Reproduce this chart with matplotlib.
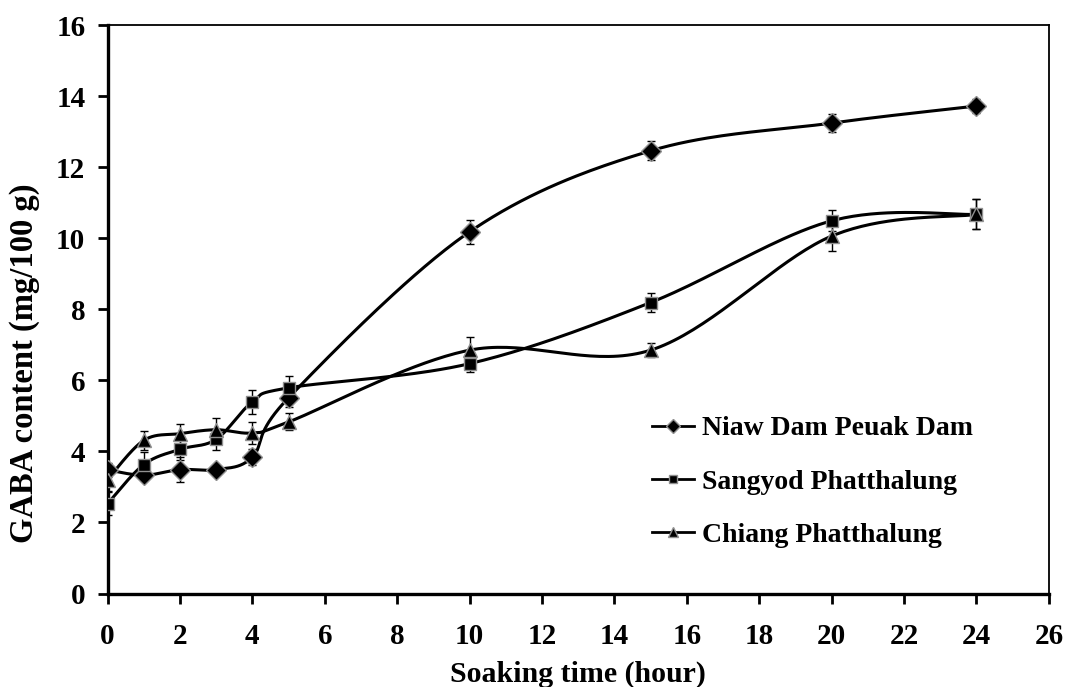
import numpy as np
import matplotlib
matplotlib.use("Agg")
import matplotlib.pyplot as plt

# soaking time (hour)
hours = [0, 1, 2, 3, 4, 5, 10, 15, 20, 24]

# GABA content (mg/100 g)
niaw = [3.48, 3.33, 3.49, 3.49, 3.84, 5.51, 10.18, 12.46, 13.24, 13.72]
niaw_err = [0.2, 0.12, 0.34, 0.12, 0.23, 0.27, 0.33, 0.27, 0.25, 0.2]
sangyod = [2.53, 3.63, 4.06, 4.34, 5.39, 5.79, 6.47, 8.19, 10.49, 10.67]
sangyod_err = [0.33, 0.35, 0.3, 0.3, 0.33, 0.33, 0.23, 0.28, 0.3, 0.42]
chiang = [3.21, 4.31, 4.5, 4.61, 4.52, 4.83, 6.85, 6.85, 10.06, 10.67]
chiang_err = [0.31, 0.27, 0.28, 0.32, 0.32, 0.24, 0.36, 0.2, 0.42, 0.42]

names = ["Niaw Dam Peuak Dam", "Sangyod Phatthalung", "Chiang Phatthalung"]
markers = ["D", "s", "^"]
msizes = [10, 8.5, 9.5]


def smooth(x, y, n=40):
    # Excel-style smoothed line: cubic Bezier through the points
    p = np.column_stack([x, y]).astype(float)
    ext = np.vstack([p[0], p, p[-1]])
    t = np.linspace(0, 1, n)[:, None]
    out = []
    for i in range(len(p) - 1):
        p0, p1, p2, p3 = ext[i], ext[i + 1], ext[i + 2], ext[i + 3]
        c1 = p1 + (p2 - p0) / 6
        c2 = p2 - (p3 - p1) / 6
        seg = ((1 - t) ** 3 * p1 + 3 * (1 - t) ** 2 * t * c1
               + 3 * (1 - t) * t ** 2 * c2 + t ** 3 * p2)
        out.append(seg if i == 0 else seg[1:])
    out = np.vstack(out)
    return out[:, 0], out[:, 1]


plt.rcParams["font.family"] = ["Liberation Serif", "DejaVu Serif"]
plt.rcParams["font.weight"] = "bold"

fig = plt.figure(figsize=(10.67, 6.87), dpi=100)
ax = fig.add_axes([0.1008, 0.136, 0.8822, 0.8276])

series = [(niaw, niaw_err), (sangyod, sangyod_err), (chiang, chiang_err)]
handles = []
for (vals, errs), name, m, ms in zip(series, names, markers, msizes):
    sx, sy = smooth(hours, vals)
    ax.plot(sx, sy, color="black", lw=2.2, zorder=2, solid_capstyle="round")
    ax.errorbar(hours, vals, yerr=errs, fmt="none", ecolor="black",
                elinewidth=1, capsize=3, capthick=1, zorder=3)
    ax.plot(hours, vals, linestyle="none", marker=m, ms=ms,
            mfc="black", mec="#909090", mew=1, zorder=4)
    h, = ax.plot([], [], color="black", lw=2, marker=m, ms=ms * 0.7,
                 mfc="black", mec="#909090", mew=1)
    handles.append(h)

ax.set_xlim(0, 26)
ax.set_ylim(0, 16)
ax.set_xticks(range(0, 27, 2))
ax.set_yticks(range(0, 17, 2))

for side in ["left", "bottom"]:
    ax.spines[side].set_linewidth(2.4)
for side in ["top", "right"]:
    ax.spines[side].set_linewidth(1.3)

ax.tick_params(axis="x", direction="out", length=7, width=2, pad=14,
               labelsize=21)
ax.tick_params(axis="y", direction="out", length=7, width=2, pad=9,
               labelsize=21)
for lab in ax.get_xticklabels() + ax.get_yticklabels():
    lab.set_fontweight("bold")

ax.set_xlabel("Soaking time (hour)", fontsize=21.5, fontweight="bold",
              labelpad=8)
ax.set_ylabel("GABA content (mg/100 g)", fontsize=23.5, fontweight="bold")
ax.yaxis.set_label_coords(-0.072, 0.405)

leg = ax.legend(handles, names, loc="upper left", frameon=False,
                bbox_to_anchor=(652 / 1067, (687 - 416) / 687),
                bbox_transform=fig.transFigure, borderpad=0,
                borderaxespad=0, handlelength=1.5, handletextpad=0.3,
                labelspacing=1.0, prop={"size": 20, "weight": "bold"})

fig.savefig("out.png", dpi=100)
